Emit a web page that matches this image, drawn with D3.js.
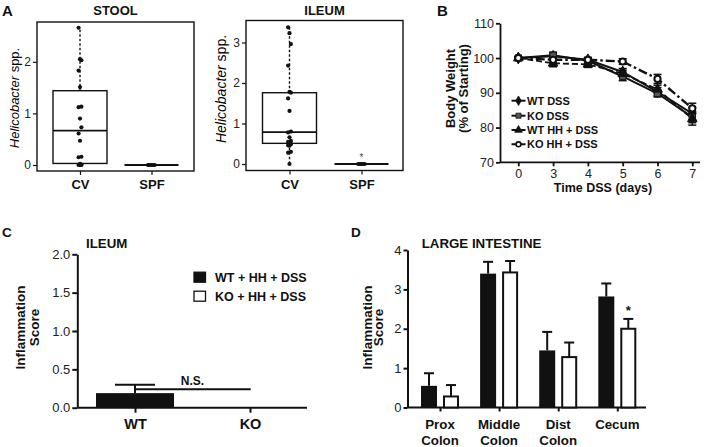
<!DOCTYPE html>
<html><head><meta charset="utf-8">
<script src="https://cdn.jsdelivr.net/npm/d3@7"></script>
<style>
body{margin:0;background:#fff}
svg{display:block;font-family:"Liberation Sans",Arial,Helvetica,sans-serif}
</style>
</head><body>
<svg id="c" width="712" height="447"></svg>
<script>
// ---------- DATA ----------
// Panel A (box plots, Helicobacter spp.)
const groupsA = ["CV", "SPF"];
const stoolCV = [2.66, 2.05, 2.03, 1.83, 1.51, 1.13, 1.12, 0.90, 0.73, 0.61, 0.47, 0.16, 0.15, 0.02, 0.01, 0.0, 0.0, 0.0];
const stoolSPF = [0, 0, 0, 0, 0, 0];
const stoolLo = [0.0, 0];
const stoolQ1 = [0.03, 0];
const stoolMed = [0.665, 0];
const stoolQ3 = [1.44, 0];
const stoolHi = [2.66, 0];
const stoolTicks = [0, 1, 2];

const ileumCV = [3.375, 3.23, 2.96, 2.43, 1.78, 1.76, 1.62, 1.31, 0.80, 0.78, 0.66, 0.57, 0.55, 0.52, 0.49, 0.46, 0.45, 0.30, 0.28, 0.0];
const ileumSPF = [0, 0, 0, 0, 0];
const ileumLo = [0.0, 0];
const ileumQ1 = [0.51, 0];
const ileumMed = [0.785, 0];
const ileumQ3 = [1.76, 0];
const ileumHi = [3.375, 0];
const ileumTicks = [0, 1, 2, 3];

// Panel B (body weight)
const days = ["0", "3", "4", "5", "6", "7"];
const seriesB = ["WT DSS", "KO DSS", "WT HH + DSS", "KO HH + DSS"];
const wtDSS = [100, 100.5, 99.5, 96.0, 90.3, 84.0];
const koDSS = [100, 100.8, 99.2, 94.7, 89.8, 83.0];
const wtHH = [100, 98.5, 98.2, 95.5, 91.0, 82.5];
const koHH = [100, 99.5, 99.5, 99.0, 94.0, 85.5];
const wtDSSerr = [0.3, 0.8, 0.7, 1.0, 1.2, 1.8];
const koDSSerr = [0.3, 0.9, 0.8, 1.2, 1.0, 1.6];
const wtHHerr = [0.3, 1.0, 0.9, 1.0, 1.2, 1.8];
const koHHerr = [0.3, 0.8, 0.6, 0.8, 1.3, 1.5];
const ticksB = [70, 80, 90, 100, 110];

// Panel C (ileum inflammation)
const groupsC = ["WT", "KO"];
const seriesCD = ["WT + HH + DSS", "KO + HH + DSS"];
const ileumScore = [0.19, 0];
const ileumScoreErr = [0.11, 0];
const ticksC = [0.0, 0.5, 1.0, 1.5, 2.0];
const nsLevel = 0.24;

// Panel D (large intestine inflammation)
const groupsD = ["Prox Colon", "Middle Colon", "Dist Colon", "Cecum"];
const liWT = [0.55, 3.40, 1.45, 2.82];
const liKO = [0.28, 3.43, 1.28, 2.00];
const liWTerr = [0.32, 0.30, 0.47, 0.33];
const liKOerr = [0.29, 0.29, 0.37, 0.25];
const ticksD = [0, 1, 2, 3, 4];

// ---------- DRAW ----------
const svg = d3.select("#c");
svg.append("rect").attr("width", 712).attr("height", 447).attr("fill", "#fff");
const INK = "#111";
const TICKC = "#222";

function letter(t, x, y, s) {
  svg.append("text").attr("x", x).attr("y", y).text(t)
    .attr("font-weight", "bold").attr("font-size", s).attr("fill", INK);
}

function styleAxis(g, size) {
  g.selectAll("path.domain").attr("stroke", INK);
  g.selectAll(".tick line").attr("stroke", INK);
  g.selectAll(".tick text").attr("font-size", size).attr("fill", TICKC)
    .attr("font-family", '"Liberation Sans",Arial,sans-serif');
}

// ----- Panel A -----
function boxPanel(cfg) {
  const y = d3.scaleLinear().domain(cfg.domain).range(cfg.yRange);
  const x = d3.scalePoint().domain(groupsA).range(cfg.xRange);
  const f = cfg.frame;
  svg.append("rect").attr("x", f[0]).attr("y", f[1]).attr("width", f[2] - f[0]).attr("height", f[3] - f[1])
    .attr("fill", "none").attr("stroke", INK).attr("stroke-width", 1.4);
  const ga = svg.append("g").attr("transform", `translate(${f[0]},0)`)
    .call(d3.axisLeft(y).tickValues(cfg.ticks).tickFormat(d3.format("d")).tickSize(4).tickPadding(2));
  ga.select("path.domain").remove();
  styleAxis(ga, cfg.tickFont);
  ga.selectAll(".tick line").attr("stroke-width", 1.2);
  const gx = svg.append("g").attr("transform", `translate(0,${f[3]})`)
    .call(d3.axisBottom(x).tickSize(4).tickPadding(5));
  gx.select("path.domain").remove();
  styleAxis(gx, 13);
  gx.selectAll(".tick text").attr("font-weight", "bold").attr("fill", INK);
  gx.selectAll(".tick line").attr("stroke-width", 1.2);
  const bw = cfg.boxW;
  groupsA.forEach((g, i) => {
    const cx = x(g);
    svg.append("line").attr("x1", cx).attr("x2", cx).attr("y1", y(cfg.q3[i])).attr("y2", y(cfg.hi[i]))
      .attr("stroke", INK).attr("stroke-width", 1.4).attr("stroke-dasharray", "2.5,2");
    svg.append("line").attr("x1", cx).attr("x2", cx).attr("y1", y(cfg.q1[i])).attr("y2", y(cfg.lo[i]))
      .attr("stroke", INK).attr("stroke-width", 1.4).attr("stroke-dasharray", "2.5,2");
    svg.append("rect").attr("x", cx - bw / 2).attr("y", y(cfg.q3[i])).attr("width", bw)
      .attr("height", Math.max(0, y(cfg.q1[i]) - y(cfg.q3[i]))).attr("fill", "none")
      .attr("stroke", INK).attr("stroke-width", 1.4);
    svg.append("line").attr("x1", cx - bw / 2).attr("x2", cx + bw / 2).attr("y1", y(cfg.med[i])).attr("y2", y(cfg.med[i]))
      .attr("stroke", INK).attr("stroke-width", 1.8);
  });
  [cfg.cv, cfg.spf].forEach((arr, gi) => {
    const cx = x(groupsA[gi]);
    svg.append("g").selectAll("circle").data(arr).join("circle")
      .attr("cx", (d, i) => cx + (gi === 1 ? ((i % 5) - 2) * 1.6 : ((i % 3) - 1) * 1.4))
      .attr("cy", d => y(d)).attr("r", 2.1).attr("fill", INK);
  });
  svg.append("text").attr("x", (f[0] + f[2]) / 2).attr("y", cfg.titleY).attr("text-anchor", "middle")
    .attr("font-weight", "bold").attr("font-size", 13).attr("fill", INK).text(cfg.title);
  const yl = svg.append("text").attr("transform", `translate(${cfg.ylabX},${cfg.ylabY}) rotate(-90)`)
    .attr("text-anchor", "middle").attr("font-size", cfg.ylabFont).attr("fill", "#000");
  yl.append("tspan").attr("font-style", "italic").text("Helicobacter");
  yl.append("tspan").text(" spp.");
  return { x, y };
}

letter("A", 2, 16, 15);
boxPanel({
  domain: [0, 2], yRange: [165, 61.8], xRange: [80, 151.5], frame: [37, 22, 194, 171],
  ticks: stoolTicks, tickFont: 12, boxW: 54,
  lo: stoolLo, q1: stoolQ1, med: stoolMed, q3: stoolQ3, hi: stoolHi, cv: stoolCV, spf: stoolSPF,
  title: "STOOL", titleY: 14.5, ylabX: 19, ylabY: 98, ylabFont: 13
});
const ilA = boxPanel({
  domain: [0, 3], yRange: [164, 42.5], xRange: [289.5, 361.5], frame: [246, 20.5, 403, 170.5],
  ticks: ileumTicks, tickFont: 12, boxW: 54,
  lo: ileumLo, q1: ileumQ1, med: ileumMed, q3: ileumQ3, hi: ileumHi, cv: ileumCV, spf: ileumSPF,
  title: "ILEUM", titleY: 14.5, ylabX: 225.5, ylabY: 89, ylabFont: 14
});
svg.append("text").attr("x", ilA.x("SPF")).attr("y", ilA.y(0) - 3.5).attr("text-anchor", "middle")
  .attr("font-size", 10).attr("fill", "#444").text("*");

// ----- Panel B -----
letter("B", 437, 16, 15);
{
  const y = d3.scaleLinear().domain([70, 110]).range([162.3, 23.3]);
  const x = d3.scalePoint().domain(days).range([518.3, 692.3]);
  const gy = svg.append("g").attr("transform", "translate(500,0)")
    .call(d3.axisLeft(y).tickValues(ticksB).tickSize(4).tickPadding(2).tickSizeOuter(0));
  styleAxis(gy, 12.5);
  gy.selectAll("path.domain, .tick line").attr("stroke-width", 1.8);
  const gx = svg.append("g").attr("transform", "translate(0,162.3)")
    .call(d3.axisBottom(x).tickSize(4).tickPadding(3));
  gx.select("path.domain").attr("d", "M500,0H700");
  styleAxis(gx, 12.5);
  gx.selectAll("path.domain, .tick line").attr("stroke-width", 1.8);

  svg.append("text").attr("x", 603).attr("y", 191.5).attr("text-anchor", "middle")
    .attr("font-weight", "bold").attr("font-size", 12.5).attr("fill", INK).text("Time DSS (days)");
  svg.append("text").attr("transform", "translate(454.5,88.5) rotate(-90)").attr("text-anchor", "middle")
    .attr("font-weight", "bold").attr("font-size", 13).attr("fill", INK).text("Body Weight");
  svg.append("text").attr("transform", "translate(467.5,88.5) rotate(-90)").attr("text-anchor", "middle")
    .attr("font-weight", "bold").attr("font-size", 13).attr("fill", INK).text("(% of Starting)");

  const vals = [wtDSS, koDSS, wtHH, koHH];
  const errs = [wtDSSerr, koDSSerr, wtHHerr, koHHerr];
  const dashes = [null, null, "6,3", "9,3,2.5,3"];
  const widths = [2, 2, 1.8, 2.4];
  const shapes = [d3.symbolDiamond, d3.symbolSquare, d3.symbolTriangle, d3.symbolCircle];
  const fills = [INK, "#555", INK, "#fff"];
  const line = d3.line().x((d, i) => x(days[i])).y(d => y(d));
  vals.forEach((v, s) => {
    const g = svg.append("g").attr("stroke", INK).attr("stroke-width", 1.5);
    v.forEach((d, i) => {
      const cx = x(days[i]), e = errs[s][i];
      g.append("line").attr("x1", cx).attr("x2", cx).attr("y1", y(d - e)).attr("y2", y(d + e));
      g.append("line").attr("x1", cx - 4).attr("x2", cx + 4).attr("y1", y(d + e)).attr("y2", y(d + e));
      g.append("line").attr("x1", cx - 4).attr("x2", cx + 4).attr("y1", y(d - e)).attr("y2", y(d - e));
    });
  });
  vals.forEach((v, s) => {
    svg.append("path").datum(v).attr("d", line).attr("fill", "none").attr("stroke", INK)
      .attr("stroke-width", widths[s]).attr("stroke-dasharray", dashes[s]);
  });
  vals.forEach((v, s) => {
    svg.append("g").selectAll("path").data(v).join("path")
      .attr("transform", (d, i) => `translate(${x(days[i])},${y(d)})`)
      .attr("d", d3.symbol().type(shapes[s]).size(s === 3 ? 30 : 40))
      .attr("fill", fills[s]).attr("stroke", INK).attr("stroke-width", s === 3 ? 2 : 1);
  });
  const ly = [100.7, 115.7, 130, 144.3];
  seriesB.forEach((name, s) => {
    const g = svg.append("g").attr("transform", `translate(0,${ly[s]})`);
    g.append("line").attr("x1", 511.5).attr("x2", 525.5).attr("y1", 0).attr("y2", 0)
      .attr("stroke", INK).attr("stroke-width", 2).attr("stroke-dasharray", s >= 2 ? "7,2" : null);
    g.append("path").attr("transform", "translate(518.5,0)")
      .attr("d", d3.symbol().type(shapes[s]).size(s === 3 ? 18 : 26))
      .attr("fill", fills[s]).attr("stroke", INK).attr("stroke-width", s === 3 ? 1.6 : 0.8);
    g.append("text").attr("x", 527).attr("y", 4).attr("font-weight", "bold").attr("font-size", 11)
      .attr("fill", INK).text(name);
  });
}

// ----- Panel C -----
letter("C", 2, 236.5, 13.5);
{
  const y = d3.scaleLinear().domain([0, 2]).range([407.7, 254.3]);
  const x = d3.scalePoint().domain(groupsC).range([135, 250]);
  const bw = 78;
  const gy = svg.append("g").attr("transform", "translate(77.3,0)")
    .call(d3.axisLeft(y).tickValues(ticksC).tickFormat(d3.format(".1f")).tickSize(5).tickPadding(2).tickSizeOuter(0));
  styleAxis(gy, 13);
  gy.selectAll("path.domain, .tick line").attr("stroke-width", 2);
  const gx = svg.append("g").attr("transform", "translate(0,407.7)")
    .call(d3.axisBottom(x).tickSize(5).tickPadding(6));
  gx.select("path.domain").attr("d", "M77.3,0H307");
  styleAxis(gx, 14.5);
  gx.selectAll(".tick text").attr("font-weight", "bold").attr("fill", INK);
  gx.selectAll("path.domain, .tick line").attr("stroke-width", 2);
  groupsC.forEach((g, i) => {
    const cx = x(g);
    if (ileumScore[i] > 0) {
      const top = y(ileumScore[i] + ileumScoreErr[i]);
      svg.append("line").attr("x1", cx).attr("x2", cx).attr("y1", y(ileumScore[i])).attr("y2", top)
        .attr("stroke", INK).attr("stroke-width", 2);
      svg.append("line").attr("x1", cx - 20).attr("x2", cx + 20).attr("y1", top).attr("y2", top)
        .attr("stroke", INK).attr("stroke-width", 2);
      svg.append("rect").attr("x", cx - bw / 2).attr("y", y(ileumScore[i])).attr("width", bw)
        .attr("height", y(0) - y(ileumScore[i])).attr("fill", INK);
    }
  });
  svg.append("line").attr("x1", x("WT") - 1).attr("x2", x("KO") + 0.7).attr("y1", y(nsLevel)).attr("y2", y(nsLevel))
    .attr("stroke", INK).attr("stroke-width", 2);
  svg.append("text").attr("x", (x("WT") + x("KO")) / 2).attr("y", y(nsLevel) - 4.5).attr("text-anchor", "middle")
    .attr("font-weight", "bold").attr("font-size", 12).attr("fill", INK).text("N.S.");
  svg.append("text").attr("x", 86).attr("y", 247.5).attr("font-weight", "bold").attr("font-size", 13.3)
    .attr("fill", INK).text("ILEUM");
  svg.append("text").attr("transform", "translate(25,327.5) rotate(-90)").attr("text-anchor", "middle")
    .attr("font-weight", "bold").attr("font-size", 13.5).attr("fill", INK).text("Inflammation");
  svg.append("text").attr("transform", "translate(39,327.5) rotate(-90)").attr("text-anchor", "middle")
    .attr("font-weight", "bold").attr("font-size", 13.5).attr("fill", INK).text("Score");
  const ly = [271.7, 290.7];
  seriesCD.forEach((name, s) => {
    svg.append("rect").attr("x", 194).attr("y", ly[s] + 0.5).attr("width", 11.5).attr("height", 10)
      .attr("fill", s === 0 ? INK : "#fff").attr("stroke", INK).attr("stroke-width", 1.3);
    svg.append("text").attr("x", 215).attr("y", ly[s] + 10).attr("font-weight", "bold").attr("font-size", 12.5)
      .attr("fill", INK).text(name);
  });
}

// ----- Panel D -----
letter("D", 351, 236.5, 13.5);
{
  const y = d3.scaleLinear().domain([0, 4]).range([407.5, 250]);
  const x = d3.scalePoint().domain(groupsD).range([440, 617.3]);
  const sub = d3.scaleBand().domain(groupsC).range([-19, 19]).paddingInner(0.273);
  const gy = svg.append("g").attr("transform", "translate(407.5,0)")
    .call(d3.axisLeft(y).tickValues(ticksD).tickFormat(d3.format("d")).tickSize(4).tickPadding(2).tickSizeOuter(0));
  styleAxis(gy, 13);
  gy.selectAll("path.domain, .tick line").attr("stroke-width", 2);
  const gx = svg.append("g").attr("transform", "translate(0,407.5)")
    .call(d3.axisBottom(x).tickSize(4).tickFormat(""));
  gx.select("path.domain").attr("d", "M407.5,0H646");
  styleAxis(gx, 13);
  gx.selectAll("path.domain, .tick line").attr("stroke-width", 2);
  groupsD.forEach(g => {
    const parts = g.split(" ");
    parts.forEach((p, k) => {
      svg.append("text").attr("x", x(g)).attr("y", 429 + k * 16.3).attr("text-anchor", "middle")
        .attr("font-weight", "bold").attr("font-size", 13.3).attr("fill", INK).text(p);
    });
  });
  const bw = sub.bandwidth();
  [[liWT, liWTerr], [liKO, liKOerr]].forEach(([vals, errs], s) => {
    groupsD.forEach((g, i) => {
      const bx = x(g) + sub(groupsC[s]);
      const cx = bx + bw / 2;
      const top = y(vals[i] + errs[i]);
      svg.append("line").attr("x1", cx).attr("x2", cx).attr("y1", y(vals[i])).attr("y2", top)
        .attr("stroke", INK).attr("stroke-width", 2);
      svg.append("line").attr("x1", cx - 5).attr("x2", cx + 5).attr("y1", top).attr("y2", top)
        .attr("stroke", INK).attr("stroke-width", 2);
      if (s === 0) {
        svg.append("rect").attr("x", bx).attr("y", y(vals[i])).attr("width", bw)
          .attr("height", y(0) - y(vals[i])).attr("fill", INK);
      } else {
        svg.append("rect").attr("x", bx + 1).attr("y", y(vals[i])).attr("width", bw - 2)
          .attr("height", y(0) - y(vals[i])).attr("fill", "#fff").attr("stroke", INK).attr("stroke-width", 2);
      }
    });
  });
  const cx = x("Cecum") + sub("KO") + bw / 2;
  svg.append("text").attr("x", cx).attr("y", y(liKO[3] + liKOerr[3]) - 4).attr("text-anchor", "middle")
    .attr("font-weight", "bold").attr("font-size", 13).attr("fill", INK).text("*");
  svg.append("text").attr("x", 421.7).attr("y", 247.7).attr("font-weight", "bold").attr("font-size", 13.3)
    .attr("fill", INK).text("LARGE INTESTINE");
  svg.append("text").attr("transform", "translate(371.5,327.5) rotate(-90)").attr("text-anchor", "middle")
    .attr("font-weight", "bold").attr("font-size", 13.5).attr("fill", INK).text("Inflammation");
  svg.append("text").attr("transform", "translate(383.3,327.5) rotate(-90)").attr("text-anchor", "middle")
    .attr("font-weight", "bold").attr("font-size", 13.5).attr("fill", INK).text("Score");
}
</script>
</body></html>
